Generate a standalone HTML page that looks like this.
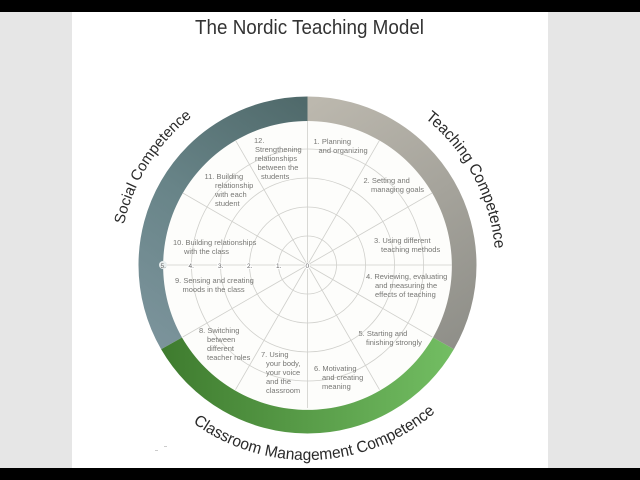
<!DOCTYPE html>
<html>
<head>
<meta charset="utf-8">
<style>
html,body{margin:0;padding:0;width:640px;height:480px;overflow:hidden;background:#e6e6e6}
svg{display:block}
text{font-family:"Liberation Sans",sans-serif}
.t text{font-size:7.5px;fill:#777774}
.n text{font-size:6.5px;fill:#666}
.c{font-size:16px;fill:#2a2a2a}
</style>
</head>
<body>
<svg width="640" height="480" viewBox="0 0 640 480" xmlns="http://www.w3.org/2000/svg">
<defs>
<linearGradient id="gs" gradientUnits="userSpaceOnUse" x1="300" y1="100" x2="140" y2="340">
<stop offset="0" stop-color="#506a6b"/><stop offset="0.5" stop-color="#688488"/><stop offset="1" stop-color="#7c949c"/>
</linearGradient>
<linearGradient id="gt" gradientUnits="userSpaceOnUse" x1="315" y1="100" x2="470" y2="345">
<stop offset="0" stop-color="#bcb8ae"/><stop offset="1" stop-color="#8e8e88"/>
</linearGradient>
<linearGradient id="gg" gradientUnits="userSpaceOnUse" x1="165" y1="370" x2="450" y2="370">
<stop offset="0" stop-color="#3f7c2f"/><stop offset="1" stop-color="#72bd62"/>
</linearGradient>
<path id="top" d="M119.500 265A188 188 0 0 1 495.500 265"/>
<path id="bot" d="M112.500 265A195 195 0 0 0 502.500 265"/>
</defs>

<rect x="0" y="0" width="640" height="480" fill="#e6e6e6"/>
<rect x="72" y="12" width="476" height="456" fill="#ffffff"/>
<rect x="0" y="0" width="640" height="12" fill="#000"/>
<rect x="0" y="468" width="640" height="12" fill="#000"/>

<text x="309.500" y="34" text-anchor="middle" font-size="20" fill="#333" textLength="229" lengthAdjust="spacingAndGlyphs">The Nordic Teaching Model</text>

<!-- ring bands -->
<circle cx="307.500" cy="265" r="145" fill="#fdfdfb"/>
<path d="M307.500 96.500A169 168.500 0 0 1 453.860 349.250L433 337.500A145 145 0 0 0 307.500 121Z" fill="url(#gt)"/>
<path d="M307.500 96.500A169 168.500 0 0 0 161.140 349.250L182 337.500A145 145 0 0 1 307.500 121Z" fill="url(#gs)"/>
<path d="M453.860 349.250A169 168.500 0 0 1 161.140 349.250L182 337.500A145 145 0 0 0 433 337.500Z" fill="url(#gg)"/>

<!-- grid -->
<g fill="none" stroke="#cfcfcb" stroke-width="0.8">
<circle cx="307.500" cy="265" r="29"/>
<circle cx="307.500" cy="265" r="58"/>
<circle cx="307.500" cy="265" r="87"/>
<circle cx="307.500" cy="265" r="116"/>
<path d="M307.500 265V121M307.500 265V408"/>
<path d="M307.500 265L379.500 140.300M307.500 265L432.200 193M307.500 265H452M307.500 265L432.200 337M307.500 265L379.500 389.700"/>
<path d="M307.500 265L235.500 140.300M307.500 265L182.800 193M307.500 265H163M307.500 265L182.800 337M307.500 265L235.500 389.700"/>
</g>

<circle cx="163" cy="265" r="4" fill="#e8eeee"/>
<g class="n">
<text x="160.500" y="268">5.</text>
<text x="188.500" y="268" stroke="#fff" stroke-width="2" paint-order="stroke">4.</text>
<text x="218" y="268" stroke="#fff" stroke-width="2" paint-order="stroke">3.</text>
<text x="247" y="268" stroke="#fff" stroke-width="2" paint-order="stroke">2.</text>
<text x="276" y="268" stroke="#fff" stroke-width="2" paint-order="stroke">1.</text>
<text x="305.500" y="268" stroke="#fff" stroke-width="2" paint-order="stroke">0</text>
</g>

<g class="t">
<text x="313.500" y="144">1. Planning</text>
<text x="318.500" y="153">and organizing</text>
<text x="363.500" y="183">2. Setting and</text>
<text x="371" y="192">managing goals</text>
<text x="374" y="243">3. Using different</text>
<text x="381" y="252">teaching methods</text>
<text x="366" y="279">4. Reviewing, evaluating</text>
<text x="375" y="288">and measuring the</text>
<text x="375" y="297">effects of teaching</text>
<text x="358.500" y="336">5. Starting and</text>
<text x="366" y="345">finishing strongly</text>
<text x="314" y="371">6. Motivating</text>
<text x="322" y="380">and creating</text>
<text x="322" y="389">meaning</text>
<text x="261" y="357">7. Using</text>
<text x="266" y="366">your body,</text>
<text x="266" y="375">your voice</text>
<text x="266" y="384">and the</text>
<text x="266" y="393">classroom</text>
<text x="199" y="333">8. Switching</text>
<text x="207" y="342">between</text>
<text x="207" y="351">different</text>
<text x="207" y="360">teacher roles</text>
<text x="175" y="283">9. Sensing and creating</text>
<text x="182.500" y="292">moods in the class</text>
<text x="173" y="245">10. Building relationships</text>
<text x="184" y="254">with the class</text>
<text x="204.500" y="179">11. Building</text>
<text x="215" y="188">relationship</text>
<text x="215" y="197">with each</text>
<text x="215" y="206">student</text>
<text x="254" y="143">12.</text>
<text x="255" y="152">Strengthening</text>
<text x="255" y="161">relationships</text>
<text x="257.500" y="170">between the</text>
<text x="261" y="179">students</text>
</g>

<!-- curved labels -->
<g transform="rotate(-57.750 307.500 265)">
<text class="c" text-anchor="middle" style="font-size:15px"><textPath href="#top" startOffset="50%" textLength="130" lengthAdjust="spacingAndGlyphs">Social Competence</textPath></text>
</g>
<g transform="rotate(61.900 307.500 265)">
<text class="c" text-anchor="middle"><textPath href="#top" startOffset="50%" textLength="152" lengthAdjust="spacingAndGlyphs">Teaching Competence</textPath></text>
</g>
<g transform="rotate(-2.500 307.500 265)">
<text class="c" text-anchor="middle"><textPath href="#bot" startOffset="50%" textLength="262" lengthAdjust="spacingAndGlyphs">Classroom Management Competence</textPath></text>
</g>

<rect x="155" y="450" width="3" height="1" fill="#ccc"/>
<rect x="164" y="446" width="3" height="1" fill="#ccc"/>
</svg>
</body>
</html>
